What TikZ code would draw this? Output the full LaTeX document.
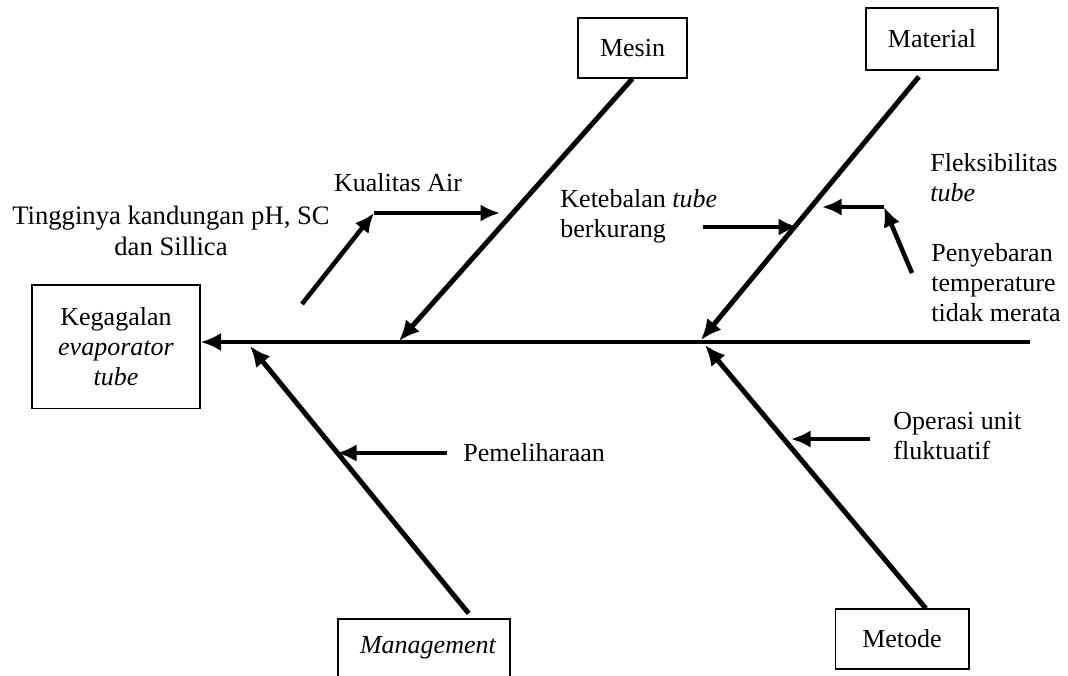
\documentclass[tikz,border=0pt]{standalone}
\usepackage{fontspec}
\setmainfont{Liberation Serif}
\usetikzlibrary{arrows.meta}

\begin{document}
\begin{tikzpicture}[x=0.4615pt,y=-0.4615pt,font=\fontsize{12}{13.8}\selectfont,
		bone/.style={line width=2.3pt,-{Latex[length=9.5pt,width=8.5pt]}},
		cause/.style={line width=2.1pt,-{Latex[length=9pt,width=8pt]}},
		box/.style={draw,line width=0.5pt,inner sep=0pt,align=center},
		lbl/.style={inner sep=0pt,align=left,anchor=west}]
						\useasboundingbox (0,0) rectangle (1068,675);
						% boxes: effect and the four categories
						\node[box,minimum width=77.5pt,minimum height=56.8pt] (effect) at (116,346.5) {Kegagalan\\\textit{evaporator}\\\textit{tube}};
						\node[box,minimum width=50.3pt,minimum height=27.7pt] (mesin) at (632.5,48) {Mesin};
						\node[box,minimum width=60.9pt,minimum height=28.6pt] (material) at (932,39) {Material};
						\node[box,minimum width=79.4pt,minimum height=26.8pt,align=left,text width=59pt] (mgmt) at (424,648) {\textit{Management}};
						\node[box,minimum width=61.8pt,minimum height=27.7pt] (metode) at (902,639) {Metode};
						% points on the spine and on the bones
						\coordinate (tail) at (1030,342);
						\coordinate (jm) at (399,341);
						\coordinate (jt) at (701,340);
						\coordinate (jg) at (250,346);
						\coordinate (jd) at (705,345);
						\coordinate (ka) at (374,213);
						\coordinate (c1) at (302,304);
						\coordinate (m1) at (500,213);
						\coordinate (k0) at (703,227);
						\coordinate (t1) at (798,227);
						\coordinate (fk) at (884,207);
						\coordinate (p0) at (912,273);
						\coordinate (t2) at (822,207);
						\coordinate (g1) at (337,453);
						\coordinate (d1) at (791,439);
						% spine and bones
						\draw[bone] (tail) -- (effect.east |- tail);
						\draw[bone] (mesin.south) -- (jm);
						\draw[bone,shorten <=3.7pt] ([xshift=-3.7pt]material.south) -- (jt);
						\draw[bone,shorten <=3pt] ([xshift=22.5pt]mgmt.north) -- (jg);
						\draw[bone] ([xshift=11pt]metode.north) -- (jd);
						% causes
						\node (kualitas) at (398,183) {Kualitas Air};
						\node[align=center,inner sep=0pt,font=\fontsize{12.3}{14.3}\selectfont] (tinggi) at (171,231) {Tingginya kandungan pH, SC\\dan Sillica};
						\node[lbl] (tebal) at (560,216) {Ketebalan \textit{tube}\\berkurang};
						\node[lbl] (fleks) at (930,178) {Fleksibilitas\\\textit{tube}};
						\node[lbl] (sebar) at (931,283) {Penyebaran\\temperature\\tidak merata};
						\node[lbl] (pem) at (463,453) {Pemeliharaan};
						\node[lbl] (op) at (893,436) {Operasi unit\\fluktuatif};
						\draw[cause] (c1) -- (ka);
						\draw[cause] (ka) -- (m1);
						\draw[cause] (k0) -- (t1);
						\draw[cause] (p0) -- (fk);
						\draw[cause] (fk) -- (t2);
						\draw[cause] ([xshift=-7.4pt]pem.west) -- (g1);
						\draw[cause] ([xshift=-10.6pt]op.west |- d1) -- (d1);
				\end{tikzpicture}
\end{document}
